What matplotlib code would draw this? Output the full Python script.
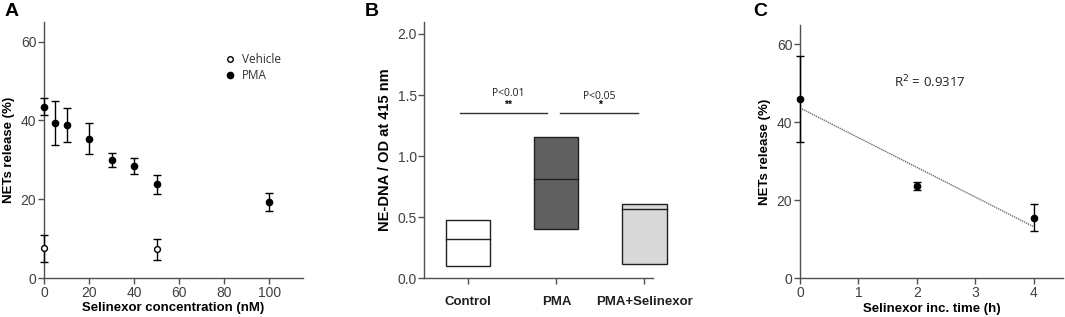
import numpy as np
import matplotlib
matplotlib.use("Agg")
import matplotlib.pyplot as plt

plt.rcParams['font.family'] = ['Liberation Sans', 'DejaVu Sans']

# Panel A data
conc_pma = [0, 5, 10, 20, 30, 40, 50, 100]
nets_pma = [43.5, 39.4, 38.8, 35.4, 29.9, 28.4, 23.8, 19.3]
err_pma = [2.2, 5.6, 4.3, 3.9, 1.75, 1.95, 2.4, 2.2]
conc_veh = [0, 50]
nets_veh = [7.5, 7.3]
err_veh = [3.5, 2.7]

# Panel B data
groups = ["Control", "PMA", "PMA+Selinexor"]
box_low = [0.10, 0.40, 0.12]
box_high = [0.48, 1.16, 0.61]
box_med = [0.32, 0.81, 0.57]
box_colors = ["white", "#616161", "#d9d9d9"]

# Panel C data
time_h = [0, 2, 4]
nets_time = [46.1, 23.7, 15.6]
err_time = [11.0, 1.0, 3.4]
r2_text = "R$^2$ = 0.9317"

W, H = 1065, 317
fig = plt.figure(figsize=(W / 100, H / 100), dpi=100)

axis_col = "#505050"
tick_col = "#404040"
TICK_FS = 10
LAB_FS = 9.5

def style(ax):
    for s in ["top", "right"]:
        ax.spines[s].set_visible(False)
    for s in ["left", "bottom"]:
        ax.spines[s].set_color(axis_col)
        ax.spines[s].set_linewidth(1.0)
    ax.tick_params(direction="out", length=4, width=1.0, color=axis_col,
                   labelcolor=tick_col, labelsize=TICK_FS, pad=1.5)

def ax_rect(l, r, t, b):
    return [l / W, 1 - b / H, (r - l) / W, (b - t) / H]

# ---------- Panel A ----------
axA = fig.add_axes(ax_rect(44, 303, 22, 278))
style(axA)
axA.errorbar(conc_pma, nets_pma, yerr=err_pma, fmt="o", color="black",
             ms=4.5, capsize=3, elinewidth=1, capthick=1, clip_on=False,
             label="PMA", zorder=3)
axA.errorbar(conc_veh, nets_veh, yerr=err_veh, fmt="o", color="black",
             mfc="white", mec="black", ms=4.2, capsize=3, elinewidth=1,
             capthick=1, clip_on=False, label="Vehicle", zorder=3)
axA.set_xlim(0, 115)
axA.set_ylim(0, 65)
axA.set_xticks([0, 20, 40, 60, 80, 100])
axA.set_yticks([0, 20, 40, 60])
axA.set_xlabel("Selinexor concentration (nM)", fontsize=LAB_FS, fontweight="bold", labelpad=2)
axA.set_ylabel("NETs release (%)", fontsize=LAB_FS, fontweight="bold", labelpad=4)
# legend
axA.plot([82.5], [55.5], "o", mfc="white", mec="black", ms=4, clip_on=False)
axA.plot([82.5], [51.5], "o", color="black", ms=4.5, clip_on=False)
axA.text(88, 55.5, "Vehicle", fontsize=8.5, va="center", ha="left", color="#303030",
         family=["Open Sans", "DejaVu Sans"])
axA.text(88, 51.5, "PMA", fontsize=8.5, va="center", ha="left", color="#303030",
         family=["Open Sans", "DejaVu Sans"])
fig.text(5 / W, 1 - 12 / H, "A", fontsize=14, fontweight="bold", va="center", ha="left")

# ---------- Panel B ----------
axB = fig.add_axes(ax_rect(424.3, 653.3, 21.7, 278.3))
style(axB)
xpos = np.arange(len(groups))
bw = 0.5
for i in range(len(groups)):
    axB.bar(xpos[i], box_high[i] - box_low[i], bottom=box_low[i], width=bw,
            color=box_colors[i], edgecolor="#202020", linewidth=1.0,
            clip_on=False, zorder=2)
    axB.plot([xpos[i] - bw / 2, xpos[i] + bw / 2], [box_med[i], box_med[i]],
             color="#202020", lw=1.0, clip_on=False, zorder=3)
axB.set_xlim(-0.5, 2.1)
axB.set_ylim(0, 2.1)
axB.set_yticks([0, 0.5, 1.0, 1.5, 2.0])
axB.set_yticklabels(["0.0", "0.5", "1.0", "1.5", "2.0"])
axB.set_xticks(xpos)
axB.set_xticklabels(groups, fontweight="bold", fontsize=LAB_FS, color="#202020")
axB.tick_params(axis="x", pad=9)
axB.set_ylabel("NE-DNA / OD at 415 nm", fontsize=10.5, fontweight="bold", labelpad=4)
# significance
axB.plot([-0.095, 0.89], [1.35, 1.35], color="#303030", lw=1.0)
axB.plot([1.04, 1.93], [1.35, 1.35], color="#303030", lw=1.0)
axB.text(0.455, 1.51, "P<0.01", fontsize=7.5, ha="center", va="center", color="#202020",
         family=["Open Sans", "DejaVu Sans"])
axB.text(0.455, 1.42, "**", fontsize=7.5, ha="center", va="center", fontweight="bold")
axB.text(1.49, 1.49, "P<0.05", fontsize=7.5, ha="center", va="center", color="#202020",
         family=["Open Sans", "DejaVu Sans"])
axB.text(1.49, 1.42, "*", fontsize=7.5, ha="center", va="center", fontweight="bold")
fig.text(365 / W, 1 - 12 / H, "B", fontsize=14, fontweight="bold", va="center", ha="left")

# ---------- Panel C ----------
axC = fig.add_axes(ax_rect(800, 1063, 25, 278.3))
style(axC)
axC.errorbar(time_h, nets_time, yerr=err_time, fmt="o", color="black", ms=4.5,
             capsize=3, elinewidth=1, capthick=1, clip_on=False, zorder=3)
slope, intercept = np.polyfit(time_h, nets_time, 1)
xfit = np.array([0, 4])
axC.plot(xfit, slope * xfit + intercept, ls=(0, (1, 0.6)), color="#707070", lw=1.0, zorder=2)
axC.set_xlim(0, 4.5)
axC.set_ylim(0, 65)
axC.set_xticks([0, 1, 2, 3, 4])
axC.set_yticks([0, 20, 40, 60])
axC.set_xlabel("Selinexor inc. time (h)", fontsize=LAB_FS, fontweight="bold", labelpad=2)
axC.set_ylabel("NETs release (%)", fontsize=LAB_FS, fontweight="bold", labelpad=4)
axC.text(1.6, 50.5, r2_text, fontsize=9.5, ha="left", va="center", color="#202020",
         family=["Open Sans", "DejaVu Sans"])
fig.text(753 / W, 1 - 12 / H, "C", fontsize=14, fontweight="bold", va="center", ha="left")

fig.savefig("out.png", dpi=100, facecolor="white")
